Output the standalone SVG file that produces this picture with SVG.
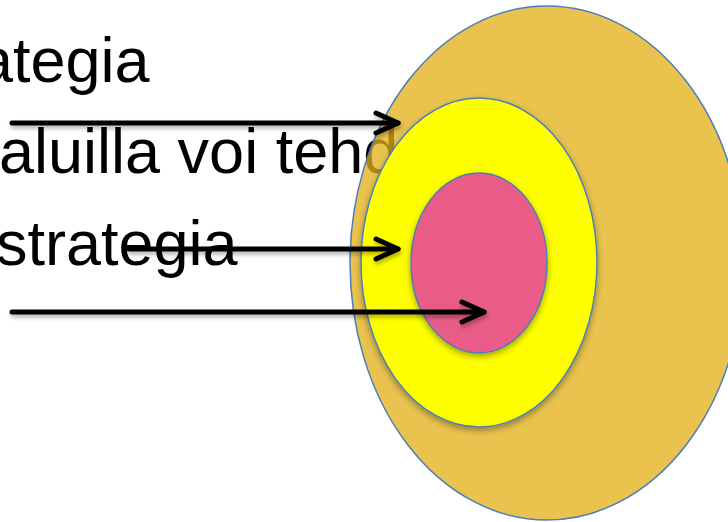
<svg xmlns="http://www.w3.org/2000/svg" width="728" height="522" viewBox="0 0 728 522">
  <style>
    .lbl { font-family: "Liberation Sans", Arial, sans-serif; font-size: 63px; fill: #000; }
    .ring { stroke: #4A7EBB; stroke-width: 1.5; }
    .arrow { stroke: #000; stroke-width: 5; stroke-linecap: round; fill: none; }
  </style>
  <defs>
    <filter id="sh" x="-20%" y="-20%" width="140%" height="140%">
      <feDropShadow dx="0" dy="3" stdDeviation="3" flood-color="#000" flood-opacity="0.35"/>
    </filter>
    <filter id="ash" x="-10%" y="-100%" width="120%" height="300%">
      <feDropShadow dx="1" dy="3" stdDeviation="2" flood-color="#000" flood-opacity="0.3"/>
    </filter>
    <marker id="head" markerUnits="userSpaceOnUse" viewBox="-30 -20 40 40" refX="0" refY="0" markerWidth="40" markerHeight="40" orient="auto" overflow="visible">
      <path d="M-22,-10 L0,0 L-22,10" fill="none" stroke="#000" stroke-width="5" stroke-linecap="round" stroke-linejoin="round"/>
    </marker>
  </defs>
  <rect width="728" height="522" fill="#fff"/>

  <g id="texts">
    <text class="lbl" x="-22" y="82">ategia</text>
    <text class="lbl" x="-1" y="173">aluilla voi tehd</text>
    <text class="lbl" x="-4" y="265">strategia</text>
  </g>

  <g id="outer">
    <ellipse class="ring" cx="547" cy="263" rx="197" ry="257" fill="#E2B017" fill-opacity="0.76"/>
  </g>
  <g id="middle">
    <ellipse class="ring" cx="479" cy="262.5" rx="118" ry="164.5" fill="#FFFF00" filter="url(#sh)"/>
  </g>
  <g id="inner">
    <ellipse class="ring" cx="479" cy="263" rx="68" ry="90" fill="#E95C87" filter="url(#sh)"/>
  </g>

  <g id="connectors" filter="url(#ash)">
    <line class="arrow" x1="12" y1="123" x2="398" y2="123" marker-end="url(#head)"/>
    <line class="arrow" x1="129" y1="249" x2="398" y2="249" marker-end="url(#head)"/>
    <line class="arrow" x1="12" y1="312" x2="484" y2="312" marker-end="url(#head)"/>
  </g>
</svg>
